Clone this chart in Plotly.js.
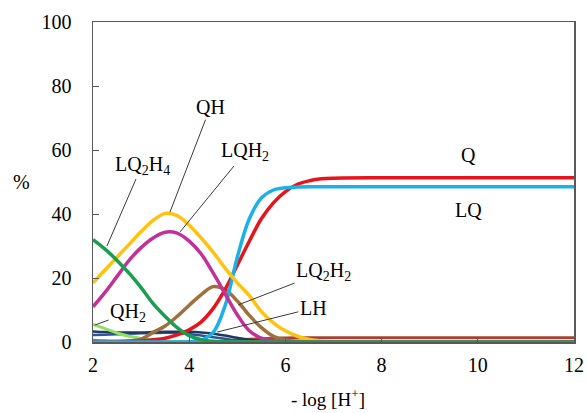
<!DOCTYPE html>
<html>
<head>
<meta charset="utf-8">
<script src="https://cdn.plot.ly/plotly-3.0.1.min.js"></script>
<style>html,body{margin:0;padding:0;background:#fff;}#chart{width:587px;height:413px;}</style>
</head>
<body>
<div id="chart"></div>
<script>
// -log[H+] sample points
const pH = [2,2.25,2.5,2.75,3,3.25,3.5,3.75,4,4.25,4.5,4.75,5,5.25,5.5,5.75,6,6.25,6.5,6.75,7,8,9,10,11,12];

const Q     = [0.05,0.07,0.1,0.2,0.35,0.7,1.2,2.2,3.8,6.3,10.5,16.5,24,31.5,38.5,43.5,47,49.3,50.4,51,51.2,51.3,51.3,51.3,51.3,51.3];
const LQ    = [0,0,0,0,0,0,0,0,0.1,0.6,3,11.5,26.5,38.5,45,47.5,48.2,48.4,48.5,48.5,48.5,48.5,48.5,48.5,48.5,48.5];
const QH    = [18.5,22.5,26.5,30.5,34.5,38,40.2,39.5,36.5,32.5,28,23,18.5,14.5,9.5,6,3.5,1.8,0.8,0.3,0.1,0,0,0,0,0];
const LQH2  = [11,15.5,20.5,25.5,29.5,32.5,34.3,34,31.5,27.5,21.5,15,8.5,3.5,1.2,0.4,0.1,0,0,0,0,0,0,0,0,0];
const LQ2H4 = [32,29,25.5,21.5,17,12,8,4.5,2,0.7,0.2,0.05,0,0,0,0,0,0,0,0,0,0,0,0,0,0];
const LQ2H2 = [0.5,0.3,0.2,0.3,0.9,3,5,8,11.5,14.8,17.3,16.3,12.8,8.3,4.5,1.8,0.6,0.2,0.1,0,0,0,0,0,0,0];
const LH    = [3.3,3.1,3.0,3.0,3.0,3.1,3.2,3.2,3.2,3.0,2.6,2.0,1.3,0.7,0.3,0.1,0,0,0,0,0,0,0,0,0,0];
const LQH   = [2.2,2.3,2.4,2.6,2.7,2.8,2.9,2.8,2.5,2.0,1.5,1.0,0.5,0.25,0.1,0,0,0,0,0,0,0,0,0,0,0];
const QH2   = [5.5,4.2,2.8,1.8,1.1,0.6,0.3,0.15,0.05,0,0,0,0,0,0,0,0,0,0,0,0,0,0,0,0,0];
const L     = [0,0,0,0,0,0,0,0,0,0.05,0.15,0.35,0.6,0.85,1.05,1.2,1.28,1.3,1.3,1.3,1.3,1.3,1.3,1.3,1.3,1.3];

const xTicks = [2,4,6,8,10,12];
const yTicks = [0,20,40,60,80,100];

function tr(y, color, w) {
  return {x: pH, y: y, mode: 'lines', line: {color: color, width: w, shape: 'spline', smoothing: 1}, hoverinfo: 'skip'};
}

const data = [
  tr(L, '#a8403a', 3),
  tr(LQH, '#2f5597', 2.5),
  tr(LH, '#1f3864', 2.5),
  tr(QH2, '#92e060', 3),
  tr(LQ2H2, '#a0703c', 3.5),
  tr(Q, '#e8141c', 3.5),
  tr(LQ, '#1ab0e8', 3.5),
  tr(QH, '#ffc20e', 3.5),
  tr(LQH2, '#c4309a', 3.5),
  tr(LQ2H4, '#1a9e50', 3.5)
];

const font = '"Liberation Serif", serif';
function lab(text, tx, ty, px, py) {
  const a = {text: text, x: px, y: py, xref: 'x', yref: 'y', font: {family: font, size: 20, color: '#000'}};
  if (tx === null) {
    a.showarrow = false;
  } else {
    a.showarrow = true; a.arrowhead = 0; a.arrowwidth = 1; a.arrowcolor = '#3a3a3a';
    a.axref = 'x'; a.ayref = 'y'; a.ax = tx; a.ay = ty;
  }
  return a;
}

const annotations = [
  lab('LQ<sub>2</sub>H<sub>4</sub>', 3.02, 55.3, 2.29, 30),
  lab('QH', 4.44, 73.4, 3.6, 40.6),
  lab('LQH<sub>2</sub>', 5.17, 59.4, 3.81, 34.4),
  lab('Q', null, null, 9.81, 58.4),
  lab('LQ', null, null, 9.81, 41.3),
  lab('LQ<sub>2</sub>H<sub>2</sub>', 6.79, 21.9, 5.02, 11.6),
  lab('LH', 6.58, 10.6, 4.58, 3.1),
  lab('QH<sub>2</sub>', 2.73, 9.1, 2.04, 5.3),
  {text: '%', xref: 'paper', yref: 'paper', x: -0.148, y: 0.5, xanchor: 'center', yanchor: 'middle', showarrow: false,
   font: {family: font, size: 20, color: '#000'}},
  {text: '- log [H<sup>+</sup>]', xref: 'paper', yref: 'paper', x: 0.489, y: -0.175, xanchor: 'center', yanchor: 'middle', showarrow: false,
   font: {family: font, size: 19, color: '#000'}}
];

const axisCommon = {
  showline: true, mirror: true, linecolor: '#595959', linewidth: 1.5,
  showgrid: false, zeroline: false, ticks: 'inside', tickcolor: '#595959',
  tickfont: {family: font, size: 20, color: '#000'}
};

const layout = {
  width: 587, height: 413,
  font: {family: font, size: 20, color: '#000'},
  margin: {l: 93, r: 13, t: 22, b: 71},
  paper_bgcolor: '#fff', plot_bgcolor: '#fff',
  showlegend: false,
  xaxis: Object.assign({}, axisCommon, {range: [2, 12], tickvals: xTicks, ticklen: 5, ticklabelstandoff: 4}),
  yaxis: Object.assign({}, axisCommon, {range: [0, 100], tickvals: yTicks, ticklen: 6, ticklabelstandoff: 16}),
  annotations: annotations
};

Plotly.newPlot('chart', data, layout, {staticPlot: true, displayModeBar: false});
</script>
</body>
</html>
